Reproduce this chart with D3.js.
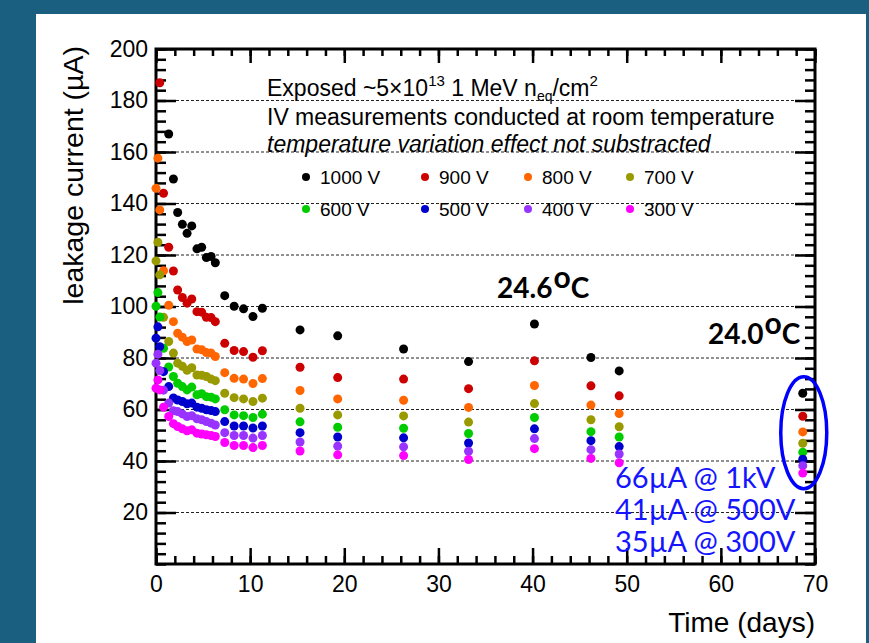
<!DOCTYPE html>
<html lang="en">
<head>
<meta charset="UTF-8">
<title>Leakage current vs time</title>
<style>
  html, body { margin: 0; padding: 0; background: #1a5e80; }
  svg { display: block; }
  .axis text { font-family: "Liberation Sans", Arial, sans-serif; font-size: 23px; fill: #000; }
  .axis line { stroke: #000; stroke-width: 2.5px; }
  .axis path { display: none; }
  .note { font-family: "Liberation Sans", Arial, sans-serif; fill: #000; }
  .calib { font-family: Lato, "Open Sans", sans-serif; }
</style>
</head>
<body>
<svg id="chart" width="869" height="643"></svg>
<script src="https://d3js.org/d3.v7.min.js"></script>
<script>
// measurement times (days)
const days = [0, 0.2, 0.4, 0.8, 1.35, 1.85, 2.3, 2.8, 3.3, 3.8, 4.35, 4.85, 5.35, 5.85, 6.3,
              7.3, 8.3, 9.3, 10.3, 11.3, 15.3, 19.3, 26.3, 33.2, 40.2, 46.2, 49.2, 68.7];

// leakage current (uA) per bias voltage, null = off the plot
const v1000 = [null, null, null, null, 167.0, 149.5, 136.5, 131.9, 128.4, 131.3, 122.4, 123.0, 119.0, 119.4, 117.0,
               104.2, 100.1, 99.1, 96.1, 99.3, 90.9, 88.6, 83.5, 78.6, 93.2, 80.2, 75.0, 66.3];
const v900  = [null, null, 186.9, 144.0, 123.0, 113.8, 106.4, 103.5, 101.3, 102.9, 98.0, 97.8, 95.8, 95.7, 94.1,
               85.7, 82.9, 82.5, 80.3, 82.8, 76.4, 72.4, 71.8, 68.1, 78.9, 69.2, 65.3, 57.4];
const v800  = [145.9, 157.6, 137.5, 113.9, 100.5, 94.1, 89.6, 88.1, 86.4, 87.0, 83.5, 83.2, 82.1, 81.9, 80.6,
               74.3, 72.1, 71.8, 70.1, 72.0, 67.4, 64.1, 63.6, 60.8, 69.3, 61.7, 58.4, 51.3];
const v700  = [117.7, 125.0, 112.3, 95.8, 86.4, 81.9, 78.0, 76.8, 75.2, 76.2, 73.4, 73.3, 72.8, 71.8, 71.2,
               66.3, 64.6, 64.1, 63.1, 64.4, 60.5, 57.9, 57.5, 55.1, 62.3, 56.0, 53.3, 46.9];
const v600  = [100.1, 105.4, 95.9, 83.8, 76.5, 72.8, 70.2, 68.9, 67.6, 68.7, 65.7, 66.1, 65.0, 64.8, 64.1,
               59.9, 57.9, 57.6, 56.9, 58.2, 55.2, 53.1, 52.7, 50.7, 56.9, 51.4, 49.3, 43.4];
const v500  = [87.7, 92.1, 84.4, 74.7, 68.9, 64.5, 63.7, 63.1, 62.2, 62.5, 60.9, 60.5, 59.9, 59.6, 59.2,
               55.3, 53.6, 53.6, 52.8, 53.6, 51.0, 49.3, 49.0, 47.0, 52.5, 47.9, 45.6, 40.7];
const v400  = [78.0, 81.5, 75.1, 67.5, 62.5, 59.5, 59.2, 58.3, 57.3, 57.6, 56.4, 56.0, 55.3, 54.7, 54.0,
               51.0, 49.9, 49.9, 48.9, 49.9, 47.4, 45.8, 45.5, 43.8, 48.7, 44.4, 42.7, 38.2];
const v300  = [68.3, 71.5, 67.6, 60.9, 57.3, 54.5, 53.4, 52.5, 51.7, 52.1, 50.8, 50.5, 50.2, 49.9, 49.5,
               47.2, 46.0, 46.0, 45.2, 46.0, 43.9, 42.4, 42.1, 40.6, 44.8, 41.0, 39.3, 35.3];

const seriesNames = ["1000 V", "900 V", "800 V", "700 V", "600 V", "500 V", "400 V", "300 V"];
const seriesColors = ["#000000", "#cc0000", "#ff6600", "#999900", "#00cc00", "#0000cc", "#9933ff", "#ff00ff"];
const seriesValues = [v1000, v900, v800, v700, v600, v500, v400, v300];

const xTicks = [0, 10, 20, 30, 40, 50, 60, 70];
const yTicks = [20, 40, 60, 80, 100, 120, 140, 160, 180, 200];

const svg = d3.select("#chart");

// white slide panel
svg.append("rect").attr("x", 36).attr("y", 14).attr("width", 830).attr("height", 629).attr("fill", "#fff");

const plotL = 156, plotR = 815, plotT = 49, plotB = 564;
const x = d3.scaleLinear().domain([0, 70]).range([plotL, plotR]);
const y = d3.scaleLinear().domain([0, 200]).range([plotB, plotT]);

// dotted grid at major y ticks
svg.append("g").selectAll("line")
    .data(yTicks.filter(v => v < 200))
    .enter().append("line")
    .attr("x1", x(0)).attr("x2", x(70))
    .attr("y1", d => y(d)).attr("y2", d => y(d))
    .attr("stroke", "#222").attr("stroke-width", 1)
    .attr("stroke-dasharray", "3,2");

// axes, ROOT style: ticks pointing inward on all four sides
const xMinor = d3.range(0, 71, 2);
const yMinor = d3.range(0, 201, 4);

svg.append("g").attr("class", "axis").attr("transform", `translate(0,${plotB})`)
    .call(d3.axisBottom(x).tickValues(xMinor).tickSize(-8).tickFormat(""));
svg.append("g").attr("class", "axis").attr("transform", `translate(0,${plotB})`)
    .call(d3.axisBottom(x).tickValues(xTicks).tickSize(-16).tickPadding(12).tickFormat(d3.format("d")));
svg.append("g").attr("class", "axis").attr("transform", `translate(0,${plotT})`)
    .call(d3.axisTop(x).tickValues(xMinor).tickSize(-7).tickFormat(""));
svg.append("g").attr("class", "axis").attr("transform", `translate(0,${plotT})`)
    .call(d3.axisTop(x).tickValues(xTicks).tickSize(-14).tickFormat(""));

svg.append("g").attr("class", "axis").attr("transform", `translate(${plotL},0)`)
    .call(d3.axisLeft(y).tickValues(yMinor).tickSize(-10).tickFormat(""));
svg.append("g").attr("class", "axis").attr("transform", `translate(${plotL},0)`)
    .call(d3.axisLeft(y).tickValues(yTicks).tickSize(-20).tickPadding(8).tickFormat(d3.format("d")));
svg.append("g").attr("class", "axis").attr("transform", `translate(${plotR},0)`)
    .call(d3.axisRight(y).tickValues(yMinor).tickSize(-10).tickFormat(""));
svg.append("g").attr("class", "axis").attr("transform", `translate(${plotR},0)`)
    .call(d3.axisRight(y).tickValues(yTicks).tickSize(-20).tickFormat(""));

// frame
svg.append("rect")
    .attr("x", plotL).attr("y", plotT).attr("width", plotR - plotL).attr("height", plotB - plotT)
    .attr("fill", "none").attr("stroke", "#000").attr("stroke-width", 3);

// axis titles
svg.append("text").attr("class", "note")
    .attr("x", plotR).attr("y", 632).attr("text-anchor", "end")
    .attr("font-size", 28).text("Time (days)");
svg.append("text").attr("class", "note")
    .attr("transform", "translate(83,46) rotate(-90)").attr("text-anchor", "end")
    .attr("font-size", 28.5).text("leakage current (\u00b5A)");

// data points
seriesValues.forEach((vals, i) => {
    const pts = days.map((d, k) => ({ t: d, v: vals[k] })).filter(p => p.v !== null);
    svg.append("g").selectAll("circle")
        .data(pts)
        .enter().append("circle")
        .attr("cx", p => x(p.t))
        .attr("cy", p => y(p.v))
        .attr("r", 4.5)
        .attr("fill", seriesColors[i]);
});

// header notes
const head = svg.append("g").attr("class", "note").attr("font-size", 23);
const l1 = head.append("text").attr("x", 267).attr("y", 96);
l1.append("tspan").text("Exposed ~5\u00d710");
l1.append("tspan").attr("font-size", 15).attr("dy", -10).text("13");
l1.append("tspan").attr("dy", 10).text(" 1 MeV n");
l1.append("tspan").attr("font-size", 14).attr("dy", 5).text("eq");
l1.append("tspan").attr("dy", -5).text("/cm");
l1.append("tspan").attr("font-size", 15).attr("dy", -10).text("2");
head.append("text").attr("x", 267).attr("y", 125).text("IV measurements conducted at room temperature");
head.append("text").attr("x", 267).attr("y", 152).attr("font-style", "italic")
    .text("temperature variation effect not substracted");

// legend
const legX = [306, 425, 528, 630];
const legY = [177, 209];
seriesNames.forEach((name, i) => {
    const lx = legX[i % 4], ly = legY[Math.floor(i / 4)];
    svg.append("circle").attr("cx", lx).attr("cy", ly).attr("r", 4).attr("fill", seriesColors[i]);
    svg.append("text").attr("class", "note").attr("font-size", 19)
        .attr("x", lx + 14).attr("y", ly + 7).text(name);
});

// temperature notes
function tempLabel(tx, ty, label) {
    const t = svg.append("text").attr("class", "calib").attr("font-weight", "bold")
        .attr("font-size", 28).attr("x", tx).attr("y", ty);
    t.append("tspan").text(label);
    t.append("tspan").attr("font-size", 30).attr("dy", -10).attr("dx", 1).text("o");
    t.append("tspan").attr("dy", 10).text("C");
}
tempLabel(497, 298, "24.6");
tempLabel(708, 344, "24.0");

// final values highlighted
svg.append("ellipse")
    .attr("cx", x(68.7) + 1).attr("cy", y(51)).attr("rx", 23).attr("ry", 56)
    .attr("fill", "none").attr("stroke", "#0000ff").attr("stroke-width", 3.5);

const blueNotes = ["66\u00b5A @ 1kV", "41\u00b5A @ 500V", "35\u00b5A @ 300V"];
svg.append("g").selectAll("text")
    .data(blueNotes)
    .enter().append("text")
    .attr("class", "calib")
    .attr("x", 615).attr("y", (d, i) => 488 + i * 32)
    .attr("font-size", 29).attr("fill", "#1414ff")
    .text(d => d);
</script>
</body>
</html>
